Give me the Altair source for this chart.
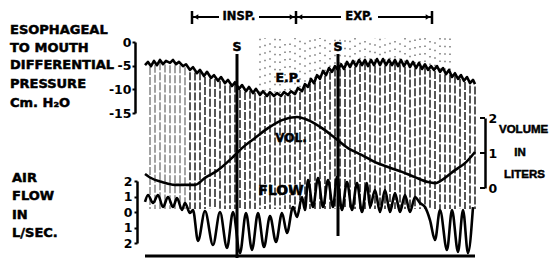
import altair as alt
import numpy as np
import pandas as pd

# ---------------- data read from the tracing ----------------
# t = time along the record (chart units, 0 = start of traces)
ep_t = [0, 3, 6, 9, 12, 15, 18, 21, 25, 28, 31, 34, 38, 41, 45, 48, 52, 55, 59, 62,
        66, 69, 73, 76, 80, 83, 87, 90, 94, 97, 101, 104, 108, 111, 115, 118, 122, 125, 129, 132,
        136, 139, 143, 146, 150, 153, 157, 160, 163, 166, 169, 172, 175, 178, 181, 184, 187, 190, 193, 196,
        199, 202, 205, 208, 211, 214, 217, 220, 223, 226, 229, 232, 235, 238, 241, 244, 247, 250, 253, 256,
        259, 262, 265, 268, 271, 274, 277, 280, 283, 286, 289, 292, 295, 298, 301, 304, 307, 310, 313, 316,
        319, 322, 325, 328, 330]
ep_p = [-4.9, -4.2, -5.1, -4.0, -4.9, -3.8, -4.7, -4.0, -4.4, -3.8, -4.7, -4.2, -5.1, -4.7, -5.9, -5.3, -6.6, -5.9, -7.2, -6.3,
        -7.6, -7.0, -8.2, -7.4, -8.7, -8.0, -9.3, -8.5, -9.9, -9.1, -10.4, -9.5, -10.8, -9.9, -11.2, -10.4, -11.4, -10.6, -11.4, -10.8,
        -11.4, -10.6, -11.2, -10.4, -11.0, -9.7, -10.4, -8.9, -9.5, -7.8, -8.7, -7.0, -7.8, -6.1, -7.0, -5.5, -6.3, -5.1, -5.9, -4.7,
        -5.7, -4.2, -5.3, -4.0, -5.1, -3.8, -4.9, -3.8, -5.1, -3.8, -4.9, -3.6, -4.9, -3.6, -4.9, -3.8, -4.9, -3.8, -5.1, -3.8,
        -5.1, -4.0, -5.3, -4.2, -5.5, -4.4, -5.7, -4.7, -5.9, -5.1, -5.9, -5.1, -6.3, -5.5, -6.8, -5.9, -7.4, -6.6, -7.8, -7.0,
        -8.2, -7.4, -8.7, -8.0, -8.9]

flow_t = [0, 3, 8, 13, 18, 23, 28, 32, 37, 40, 45, 48, 53, 60, 68, 75, 82, 88, 95, 101,
          107, 113, 119, 125, 131, 137, 142, 148, 152, 157, 160, 163, 168, 173, 178, 183, 188, 192, 197, 202,
          207, 212, 217, 222, 225, 230, 235, 240, 245, 250, 255, 260, 265, 270, 275, 280, 285, 290, 295, 302,
          307, 313, 318, 323, 328]
flow_f = [0.65, 1.10, 0.58, 1.10, 0.32, 0.97, 0.32, 0.90, 0.13, 0.58, -0.06, 0.13, -1.87, 0.06, -2.13, 0.0, -2.32, 0.0, -2.65, -0.06,
          -2.45, -0.06, -2.26, -0.26, -1.94, -0.06, -1.35, 0.32, -0.32, 0.97, 0.13, 2.06, 0.32, 2.19, 0.32, 2.06, 0.32, 2.26, 0.13, 1.94,
          0.13, 1.87, 0.0, 1.87, 0.32, 1.42, 0.0, 1.42, 0.0, 1.23, 0.0, 1.10, 0.0, 0.97, 0.58, 0.32, -0.52, -1.81, 0.13, -2.45,
          0.13, -2.58, 0.13, -2.65, 0.32]

vol_t = [0, 5, 17, 30, 50, 60, 73, 87, 97, 110, 123, 137, 152, 163, 177, 190, 203, 217, 230, 243,
         257, 270, 283, 290, 300, 310, 320, 330]
vol_v = [0.40, 0.30, 0.17, 0.09, 0.09, 0.29, 0.51, 0.86, 1.14, 1.43, 1.71, 1.94, 2.03, 1.94, 1.71, 1.43, 1.14, 0.94, 0.74, 0.60,
         0.46, 0.31, 0.17, 0.14, 0.29, 0.51, 0.71, 1.03]

pressure_ticks = [0, -5, -10, -15]
flow_ticks = [2, 1, 0, -1, -2]
volume_ticks = [0, 1, 2]

s_marks_t = [92, 193]                 # the two "S" events
phase_t = [47, 151, 287]              # INSP start, INSP/EXP switch, EXP end
phase_labels = ["INSP.", "EXP."]
phase_label_t = [94, 214]
record_span = [0, 330]                # bottom time bar
timing_t = list(range(5, 331, 5))     # timing lines on the record

assert len(ep_t) == len(ep_p) and len(flow_t) == len(flow_f) and len(vol_t) == len(vol_v)

# ---------------- layout ----------------
W, H = 541, 250
FONT = "DejaVu Sans"
X_SCALE = alt.Scale(domain=[-137, 404], nice=False, zero=False)
P_SCALE = alt.Scale(domain=[-15, 0], range=[105, 34], nice=False, zero=False)
F_SCALE = alt.Scale(domain=[-2, 2], range=[235, 173], nice=False, zero=False)
V_SCALE = alt.Scale(domain=[0, 2], range=[180, 110], nice=False, zero=False)

ep_df = pd.DataFrame({"t": ep_t, "p": ep_p})
flow_df = pd.DataFrame({"t": flow_t, "f": flow_f})
vol_df = pd.DataFrame({"t": vol_t, "v": vol_v})

tt = np.array(timing_t, dtype=float)
grid_df = pd.DataFrame({
    "t": tt,
    "top": np.interp(tt, ep_t, ep_p) - 0.5,
    "op": np.where(tt < 45, 0.55, 1.0),
})
upper_df = grid_df[(grid_df.t > 110) & (grid_df.t < 310)].copy()
upper_df["top"] = upper_df["top"] + 1.0

AX = dict(domainColor="black", domainWidth=2.5, tickColor="black", tickWidth=2,
          labelColor="black", labelFont=FONT, labelFontWeight="bold", labelFontSize=12.5,
          grid=False, title=None)

X = alt.X("t:Q", scale=X_SCALE, axis=None)

grid = alt.Chart(grid_df).mark_rule(color="#111", strokeWidth=1.4, strokeDash=[8, 2]).encode(
    x=X, y=alt.Y("top:Q", scale=P_SCALE, axis=None), y2=alt.value(201),
    opacity=alt.Opacity("op:Q", scale=None))

grid_up = alt.Chart(upper_df).mark_rule(color="#555", strokeWidth=1.2, strokeDash=[1.5, 6]).encode(
    x=X, y=alt.Y("top:Q", scale=P_SCALE, axis=None), y2=alt.value(30))

ep_line = alt.Chart(ep_df).mark_line(color="black", strokeWidth=2.6, strokeJoin="round").encode(
    x=X,
    y=alt.Y("p:Q", scale=P_SCALE,
            axis=alt.Axis(orient="left", offset=-127, values=pressure_ticks, tickSize=3,
                          labelPadding=1, labelExpr="'' + datum.value", **AX)))

flow_line = alt.Chart(flow_df).mark_line(color="black", strokeWidth=2.6, interpolate="monotone").encode(
    x=X,
    y=alt.Y("f:Q", scale=F_SCALE,
            axis=alt.Axis(orient="left", offset=-129, values=flow_ticks, tickSize=3,
                          labelPadding=2, labelExpr="'' + abs(datum.value)", **AX)))

vol_line = alt.Chart(vol_df).mark_line(color="black", strokeWidth=2.6, interpolate="monotone").encode(
    x=X,
    y=alt.Y("v:Q", scale=V_SCALE,
            axis=alt.Axis(orient="right", offset=-64, values=volume_ticks, ticks=False,
                          labelPadding=3, labelExpr="'' + datum.value", **AX)))

vol_tick = alt.Chart(pd.DataFrame({"v": volume_ticks})).mark_rule(color="black", strokeWidth=2).encode(
    y=alt.Y("v:Q", scale=V_SCALE, axis=None), x=alt.value(472), x2=alt.value(477))

s_df = pd.DataFrame({"t": s_marks_t})
s_rule1 = alt.Chart(s_df.iloc[[0]]).mark_rule(color="black", strokeWidth=3).encode(
    x=X, y=alt.value(46), y2=alt.value(250))
s_rule2 = alt.Chart(s_df.iloc[[1]]).mark_rule(color="black", strokeWidth=3).encode(
    x=X, y=alt.value(46), y2=alt.value(228))
s_text = alt.Chart(s_df).mark_text(text="S", font=FONT, fontWeight="bold", fontSize=12.5,
                                   baseline="middle", color="black", stroke="black",
                                   strokeWidth=0.5).encode(x=X, y=alt.value(39))

bar_df = pd.DataFrame({"t": [record_span[0]], "t2": [record_span[1]]})
bottom = alt.Chart(bar_df).mark_rule(color="black", strokeWidth=3).encode(
    x=X, x2="t2:Q", y=alt.value(248))

# INSP / EXP bracket
seg_df = pd.DataFrame({
    "t": [phase_t[0], phase_label_t[0] + 20, phase_t[1], phase_label_t[1] + 19],
    "t2": [phase_label_t[0] - 20, phase_t[1], phase_label_t[1] - 18, phase_t[2]],
})
segs = alt.Chart(seg_df).mark_rule(color="black", strokeWidth=2).encode(
    x=X, x2="t2:Q", y=alt.value(9))
ends = alt.Chart(pd.DataFrame({"t": phase_t})).mark_rule(color="black", strokeWidth=2.5).encode(
    x=X, y=alt.value(3), y2=alt.value(16))
arr_l = alt.Chart(pd.DataFrame({"t": [phase_t[0] + 4, phase_t[1] + 4]})).mark_point(
    shape="triangle-left", filled=True, color="black", size=28, opacity=1).encode(x=X, y=alt.value(9))
arr_r = alt.Chart(pd.DataFrame({"t": [phase_t[1] - 4, phase_t[2] - 4]})).mark_point(
    shape="triangle-right", filled=True, color="black", size=28, opacity=1).encode(x=X, y=alt.value(9))
phase_txt = alt.Chart(pd.DataFrame({"t": phase_label_t, "lab": phase_labels})).mark_text(
    font=FONT, fontWeight="bold", fontSize=11.5, baseline="middle", color="black",
    stroke="black", strokeWidth=0.4).encode(x=X, y=alt.value(9), text="lab:N")

ONE = pd.DataFrame({"k": [0]})


def label(s, x, y, size=13, align="left", font=FONT):
    return alt.Chart(ONE).mark_text(text=s, align=align, baseline="middle", font=font,
                                    fontWeight="bold", fontSize=size, color="black",
                                    stroke="black", strokeWidth=0.5).encode(
        x=alt.value(x), y=alt.value(y))


RFONT = "Liberation Sans"
texts = [
    label("ESOPHAGEAL", 2, 22), label("TO MOUTH", 2, 40), label("DIFFERENTIAL", 2, 57),
    label("PRESSURE", 2, 76), label("Cm. H₂O", 2, 95),
    label("AIR", 4, 170), label("FLOW", 4, 188), label("IN", 4, 207), label("L/SEC.", 4, 225),
    label("VOLUME", 491, 122, size=11.5, font=RFONT),
    label("IN", 512, 145, size=11.5, align="center", font=RFONT),
    label("LITERS", 496, 167, size=11.5, font=RFONT),
    label("E.P.", 280, 70, size=12.5, align="center"),
    label("VOL.", 283, 130, size=12, align="center"),
    label("FLOW", 273, 183, size=14, align="center"),
]

chart = alt.layer(
    grid, grid_up, vol_line, vol_tick, ep_line, flow_line, s_rule1, s_rule2, s_text, bottom,
    segs, ends, arr_l, arr_r, phase_txt, *texts
).resolve_scale(y="independent").properties(
    width=W, height=H, padding=0, autosize=alt.AutoSizeParams(type="none"),
    background="white"
).configure_view(stroke=None)

chart.save("out.html", embed_options={"renderer": "svg", "actions": False})
